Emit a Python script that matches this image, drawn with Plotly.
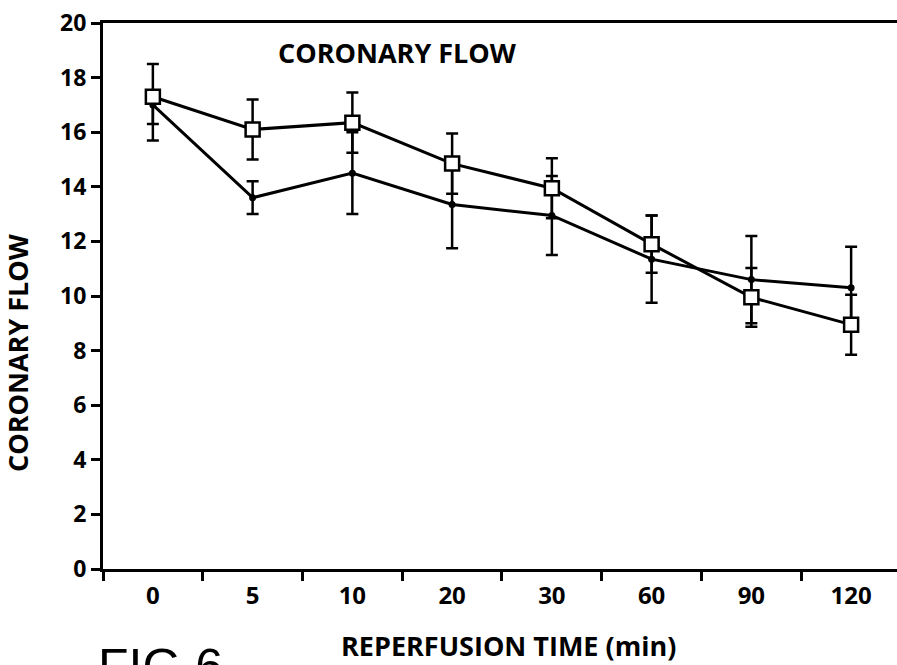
import plotly.graph_objects as go

# Data
time_labels = ["0", "5", "10", "20", "30", "60", "90", "120"]
square_mean = [17.3, 16.1, 16.35, 14.85, 13.95, 11.9, 9.95, 8.95]
square_err_plus = [1.2, 1.1, 1.1, 1.1, 1.1, 1.05, 1.08, 1.1]
square_err_minus = [1.6, 1.1, 1.1, 1.1, 1.1, 1.05, 1.08, 1.1]
dot_mean = [17.0, 13.6, 14.5, 13.35, 12.95, 11.35, 10.6, 10.3]
dot_err_plus = [0.3, 0.6, 1.5, 1.6, 1.45, 1.6, 1.6, 1.5]
dot_err_minus = [0.7, 0.6, 1.5, 1.6, 1.45, 1.6, 1.6, 1.5]
y_ticks = [0, 2, 4, 6, 8, 10, 12, 14, 16, 18, 20]

FONT = "Open Sans"
W, H = 897, 665
ML, MR, MT, MB = 103, 0, 23, 96
PW = W - ML - MR
PH = H - MT - MB


def px_x(x):
    return (x - ML) / PW


def px_y(y):
    return (H - MB - y) / PH


fig = go.Figure()
fig.add_trace(go.Scatter(
    x=time_labels, y=dot_mean, mode="lines+markers",
    line=dict(color="black", width=3),
    marker=dict(symbol="circle", size=7, color="black"),
    error_y=dict(type="data", symmetric=False, array=dot_err_plus,
                 arrayminus=dot_err_minus, visible=True,
                 color="black", thickness=2.5, width=6),
    showlegend=False,
))
fig.add_trace(go.Scatter(
    x=time_labels, y=square_mean, mode="lines+markers",
    line=dict(color="black", width=3),
    marker=dict(symbol="square", size=14, color="white",
                line=dict(color="black", width=2.5)),
    error_y=dict(type="data", symmetric=False, array=square_err_plus,
                 arrayminus=square_err_minus, visible=True,
                 color="black", thickness=2.5, width=6),
    showlegend=False,
))

fig.update_layout(
    width=W, height=H,
    margin=dict(l=ML, r=MR, t=MT, b=MB),
    paper_bgcolor="white", plot_bgcolor="white",
    font=dict(family=FONT, color="black"),
    xaxis=dict(
        type="category", categoryorder="array", categoryarray=time_labels,
        range=[-0.5, 7.46], tickson="boundaries",
        ticks="outside", ticklen=9, tickwidth=2.5, tickcolor="black",
        showline=True, linecolor="black", linewidth=3, mirror=True,
        showgrid=False, zeroline=False, automargin=False,
        tickfont=dict(family=FONT, size=24, color="black", weight="bold"),
        ticklabelstandoff=3,
    ),
    yaxis=dict(
        range=[0, 20], tickvals=y_ticks,
        ticks="outside", ticklen=9, tickwidth=2.5, tickcolor="black",
        showline=True, linecolor="black", linewidth=3, mirror=False,
        showgrid=False, zeroline=False, automargin=False,
        tickfont=dict(family=FONT, size=23, color="black", weight="bold"),
    ),
    annotations=[
        dict(text="CORONARY FLOW", xref="paper", yref="paper",
             x=px_x(397), y=px_y(52), xanchor="center", yanchor="middle",
             showarrow=False,
             font=dict(family=FONT, size=27, color="black", weight="bold")),
        dict(text="CORONARY FLOW", xref="paper", yref="paper",
             x=px_x(17), y=px_y(353), xanchor="center", yanchor="middle",
             showarrow=False, textangle=-90,
             font=dict(family=FONT, size=27, color="black", weight="bold")),
        dict(text="REPERFUSION TIME (min)", xref="paper", yref="paper",
             x=px_x(508), y=px_y(645), xanchor="center", yanchor="middle",
             showarrow=False,
             font=dict(family=FONT, size=27, color="black", weight="bold")),
        dict(text="FIG 6", xref="paper", yref="paper",
             x=px_x(96), y=px_y(637), xanchor="left", yanchor="top",
             showarrow=False,
             font=dict(family="Liberation Sans", size=50, color="black")),
    ],
)

fig.write_html(
    "out.html",
    config={"displayModeBar": False},
    post_script="document.body.style.margin='0px';"
                "document.body.style.overflow='hidden';",
)
